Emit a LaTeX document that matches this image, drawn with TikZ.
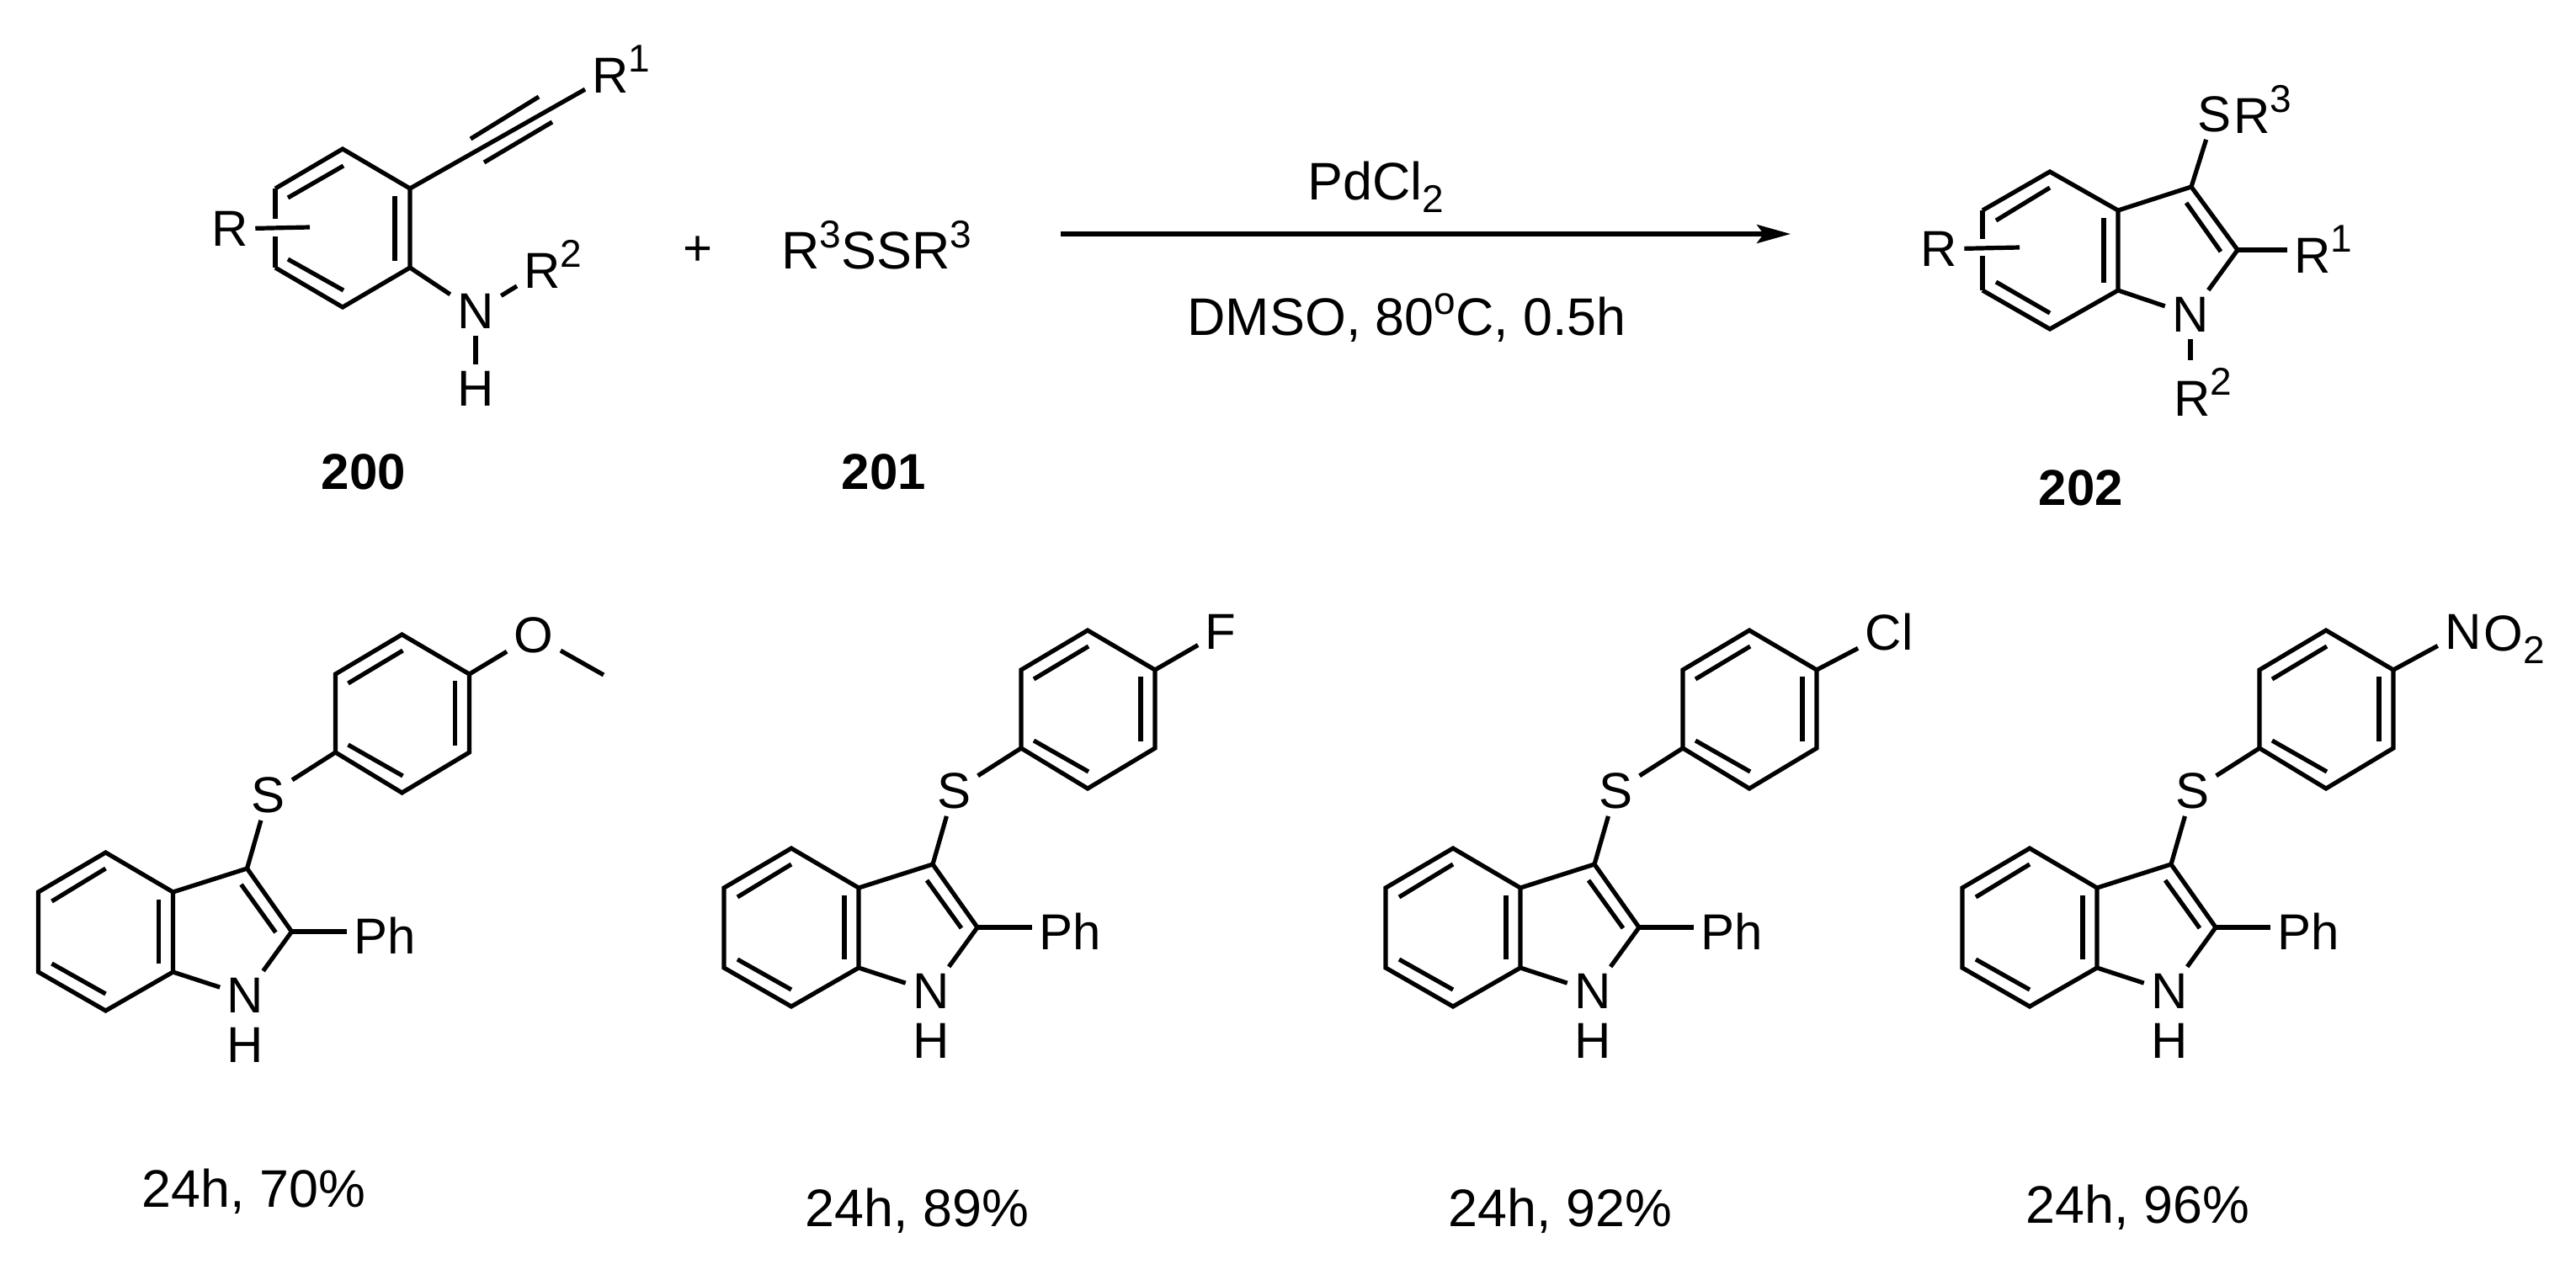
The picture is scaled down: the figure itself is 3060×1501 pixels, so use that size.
\documentclass[tikz,border=0pt]{standalone}
\usepackage{fontspec}
\setmainfont{Liberation Sans}
\usetikzlibrary{arrows.meta}
\newcommand{\atomsup}[1]{\raisebox{6.2pt}{\fontsize{11.5}{12}\selectfont #1}}
\newcommand{\atomsub}[1]{\raisebox{-3.8pt}{\fontsize{11.5}{12}\selectfont #1}}
\tikzset{
    atom/.style={font=\fontsize{15}{15}\selectfont, inner sep=1.5pt},
    atomtext/.style={atom, anchor=base west},
    reagent/.style={font=\fontsize{15.7}{15.7}\selectfont, inner sep=0pt, anchor=base west},
    compound/.style={font=\fontsize{15}{15}\selectfont\bfseries, inner sep=0pt, anchor=base},
    indole/.pic={
        \coordinate (t) at (0, 0);
        \coordinate (ul) at (-80, 47);
        \coordinate (ll) at (-80, 142);
        \coordinate (b) at (0, 188);
        \coordinate (lr) at (80, 142);
        \coordinate (ur) at (80, 47);
        \coordinate (c3) at (168, 19);
        \coordinate (c2) at (221, 94);
        \coordinate (ipso) at (273, -119);
        \coordinate (ao) at (273, -212);
        \coordinate (am) at (352, -259);
        \coordinate (ar) at (432, -212);
        \coordinate (ap) at (432, -119);
        \coordinate (ab) at (352, -71);
        \node[atom] (n) at (166, 170) {N};
        \node[atom] (h) at (166, 229) {H};
        \node[atom] (s) at (193, -68) {S};
        \node[atomtext] (ph) at (286, 120) {Ph};
        \draw (t) -- (ul) -- (ll) -- (b) -- (lr) -- (ur) -- cycle;
        \draw (ur) -- (c3) -- (c2);
        \draw (lr) -- (n);
        \draw (c2) -- (n);
        \draw (c2) -- (c2 -| ph.west);
        \draw (c3) -- (s);
        \draw (s) -- (ipso);
        \draw (ipso) -- (ao) -- (am) -- (ar) -- (ap) -- (ab) -- cycle;
        \draw (0, 19) -- (-64, 58);
        \draw (-64, 132) -- (0, 168);
        \draw (63, 56) -- (63, 132);
        \draw (161, 38) -- (202, 95);
        \draw (288, -201) -- (353, -240);
        \draw (288, -128) -- (353, -91);
        \draw (415, -204) -- (415, -127);
    }
}
\begin{document}
\begin{tikzpicture}[x=0.25pt, y=-0.25pt, line width=1.3pt]
    \useasboundingbox (0, 0) rectangle (3060, 1501);

    \coordinate (smt) at (407, 177);
    \coordinate (smul) at (327, 224);
    \coordinate (smll) at (327, 318);
    \coordinate (smb) at (407, 365);
    \coordinate (smlr) at (487, 318);
    \coordinate (smur) at (487, 224);
    \coordinate (smcross) at (368, 270);
    \node[atom] (smr) at (273, 272) {R};
    \node[atomtext] (smrone) at (695, 110) {R\atomsup{1}};
    \node[atom] (smn) at (565, 370) {N};
    \node[atom] (smh) at (565, 462) {H};
    \node[atomtext] (smrtwo) at (614, 342) {R\atomsup{2}};
    \draw (smul) -- (smt) -- (smur) -- (smlr) -- (smb) -- (smll);
    \draw (smul) -- (327, 260);
    \draw (327, 281) -- (smll);
    \draw (342, 235) -- (408, 197);
    \draw (342, 308) -- (408, 345);
    \draw (469, 233) -- (469, 310);
    \draw (smr) -- (smcross);
    \draw (smur) -- (smrone);
    \draw (559, 165) -- (640, 115);
    \draw (575, 193) -- (656, 145);
    \draw (smlr) -- (smn);
    \draw (smn) -- (smrtwo);
    \draw (smn) -- (smh);

    \node[atom] (plus) at (829, 298) {+};
    \node[reagent] (disulfide) at (926, 319) {R\atomsup{3}SSR\atomsup{3}};
    \node[compound] (cpdzero) at (432, 581) {200};
    \node[compound] (cpdone) at (1050, 581) {201};

    \coordinate (arrowstart) at (1260, 278);
    \coordinate (arrowend) at (2127, 278);
    \draw[-{Stealth[length=10pt, width=5.5pt, inset=2pt]}] (arrowstart) -- (arrowend);
    \node[reagent] (catalyst) at (1551, 237) {PdCl\atomsub{2}};
    \node[reagent] (conditions) at (1408, 398) {DMSO, 80\atomsup{o}C, 0.5h};

    \coordinate (prt) at (2435, 204);
    \coordinate (prul) at (2355, 250);
    \coordinate (prll) at (2355, 345);
    \coordinate (prb) at (2435, 391);
    \coordinate (prlr) at (2516, 345);
    \coordinate (prur) at (2516, 250);
    \coordinate (prcthree) at (2603, 222);
    \coordinate (prctwo) at (2658, 297);
    \coordinate (prcross) at (2399, 294);
    \node[atom] (prr) at (2303, 296) {R};
    \node[atom] (prn) at (2602, 374) {N};
    \node[atom] (prs) at (2630, 136) {S};
    \node[atomtext] (prrthree) at (2645, 158) {R\atomsup{3}};
    \node[atomtext] (prrone) at (2717, 324) {R\atomsup{1}};
    \node[atomtext] (prrtwo) at (2574, 494) {R\atomsup{2}};
    \draw (prul) -- (prt) -- (prur) -- (prlr) -- (prb) -- (prll);
    \draw (prul) -- (2355, 284);
    \draw (2355, 304) -- (prll);
    \draw (2371, 262) -- (2435, 223);
    \draw (2371, 335) -- (2435, 372);
    \draw (2499, 259) -- (2499, 336);
    \draw (2597, 241) -- (2638, 299);
    \draw (prur) -- (prcthree) -- (prctwo);
    \draw (prlr) -- (prn);
    \draw (prctwo) -- (prn);
    \draw (prr) -- (prcross);
    \draw (prcthree) -- (prs);
    \draw (prctwo) -- (prctwo -| prrone.west);
    \draw (prn) -- (prn |- prrtwo.north);
    \node[compound] (cpdtwo) at (2472, 600) {202};

    \pic (one-) at (125.5, 1013) {indole};
    \pic (two-) at (940, 1008) {indole};
    \pic (three-) at (1726, 1008) {indole};
    \pic (four-) at (2411, 1008) {indole};

    \node[atom] (oxygen) at (634, 755) {O};
    \coordinate (methyl) at (717, 802);
    \draw (one-ar) -- (oxygen);
    \draw (oxygen) -- (methyl);
    \node[atom] (fluorine) at (1450, 751) {F};
    \draw (two-ar) -- (fluorine);
    \node[atom] (chlorine) at (2244, 751) {Cl};
    \draw (three-ar) -- (chlorine);
    \node[atom] (nitrogen) at (2926, 751) {N};
    \node[atomtext, inner sep=0pt] (nitro) at (2948, 773) {O\atomsub{2}};
    \draw (four-ar) -- (nitrogen);

    \node[reagent] (yieldone) at (166, 1434) {24h, 70\%};
    \node[reagent] (yieldtwo) at (954, 1457) {24h, 89\%};
    \node[reagent] (yieldthree) at (1718, 1457) {24h, 92\%};
    \node[reagent] (yieldfour) at (2404, 1453) {24h, 96\%};
\end{tikzpicture}
\end{document}
